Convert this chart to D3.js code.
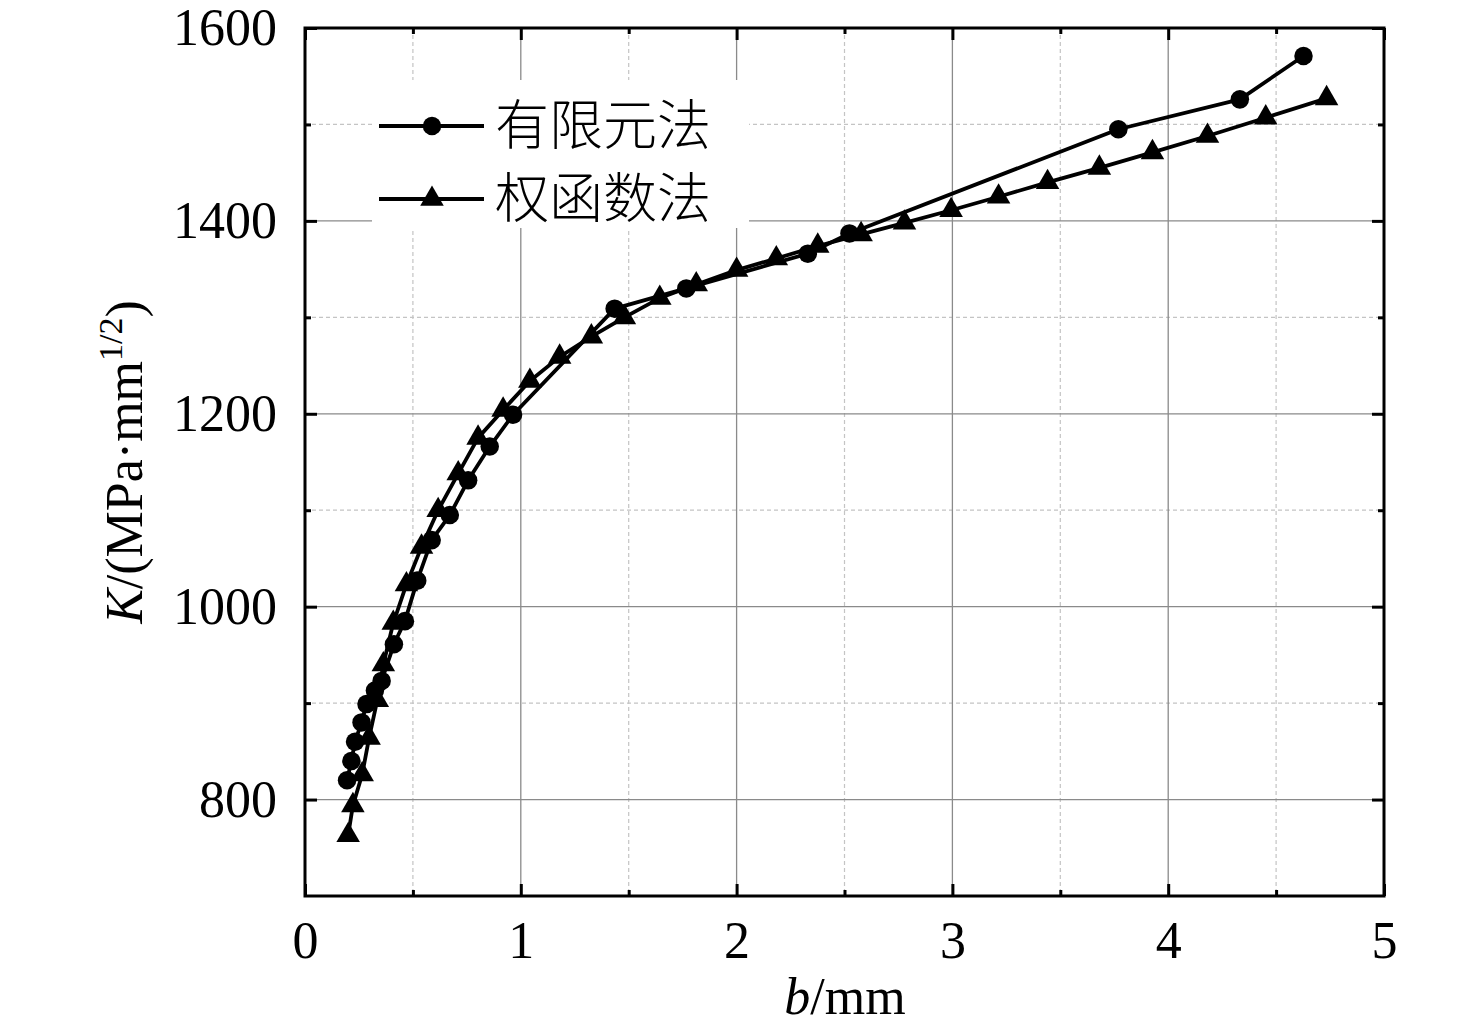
<!DOCTYPE html>
<html>
<head>
<meta charset="utf-8">
<script src="https://cdn.jsdelivr.net/npm/d3@7"></script>
<style>
  body { margin: 0; background: #fff; }
  text { font-family: "Liberation Serif", "Times New Roman", serif; }
</style>
</head>
<body>
<div id="chart"></div>
<script>
// crack depth b (mm) and stress intensity factor K
var femX = [0.195, 0.215, 0.232, 0.262, 0.285, 0.324, 0.355, 0.412, 0.463, 0.52, 0.587, 0.671, 0.756, 0.856, 0.964, 1.435, 1.767, 2.33, 2.523, 3.769, 4.332, 4.627];
var femY = [820, 840, 860, 880, 899, 913, 923, 961, 985, 1027, 1069, 1095, 1131, 1166, 1199, 1309, 1330, 1366, 1387, 1495, 1526, 1571];

var wfX = [0.2, 0.222, 0.265, 0.297, 0.335, 0.363, 0.409, 0.47, 0.54, 0.617, 0.71, 0.802, 0.918, 1.042, 1.18, 1.327, 1.48, 1.644, 1.813, 2.0, 2.184, 2.376, 2.577, 2.778, 2.994, 3.214, 3.441, 3.681, 3.927, 4.182, 4.452, 4.734];
var wfY = [763, 794, 826, 864, 903, 940, 983, 1023, 1062, 1100, 1138, 1175, 1204, 1234, 1259, 1280, 1300, 1320, 1334, 1349, 1361, 1374, 1386, 1398, 1411, 1425, 1440, 1455, 1471, 1488, 1507, 1527];

var seriesNames = ["有限元法", "权函数法"];
var xTicks = [0, 1, 2, 3, 4, 5];
var yTicks = [800, 1000, 1200, 1400, 1600];

var W = 1476, H = 1027,
    margin = {left: 305, right: 92, top: 28, bottom: 131};
var width = W - margin.left - margin.right,
    height = H - margin.top - margin.bottom;

var svg = d3.select("#chart").append("svg")
    .attr("width", W).attr("height", H);
var g = svg.append("g").attr("transform", "translate(" + margin.left + "," + margin.top + ")");

var x = d3.scaleLinear().domain([0, 5]).range([0, width]);
var y = d3.scaleLinear().domain([700, 1600]).range([height, 0]);

// grid: minor dashed, major solid
var xMinor = d3.range(0.5, 5, 1), yMinor = d3.range(700, 1601, 200).filter(v => v > 700 && v < 1600);
g.append("g").selectAll("line").data(xMinor).enter().append("line")
    .attr("x1", d => x(d)).attr("x2", d => x(d)).attr("y1", 0).attr("y2", height)
    .attr("stroke", "#c4c4c4").attr("stroke-width", 1.2).attr("stroke-dasharray", "4,3");
g.append("g").selectAll("line").data(yMinor).enter().append("line")
    .attr("y1", d => y(d)).attr("y2", d => y(d)).attr("x1", 0).attr("x2", width)
    .attr("stroke", "#c4c4c4").attr("stroke-width", 1.2).attr("stroke-dasharray", "4,3");
g.append("g").selectAll("line").data(xTicks.slice(1, -1)).enter().append("line")
    .attr("x1", d => x(d)).attr("x2", d => x(d)).attr("y1", 0).attr("y2", height)
    .attr("stroke", "#8a8a8a").attr("stroke-width", 1.3);
g.append("g").selectAll("line").data(yTicks.slice(0, -1)).enter().append("line")
    .attr("y1", d => y(d)).attr("y2", d => y(d)).attr("x1", 0).attr("x2", width)
    .attr("stroke", "#8a8a8a").attr("stroke-width", 1.3);

// legend background hides the grid behind it
g.append("rect").attr("x", 372 - margin.left).attr("y", 80 - margin.top)
    .attr("width", 377).attr("height", 148).attr("fill", "#fff");

// axes, ticks pointing inward on all four sides
function styleAxis(sel) {
    sel.select(".domain").remove();
    sel.selectAll("line").attr("stroke", "#000").attr("stroke-width", 3);
    sel.selectAll("text").attr("font-size", 52).attr("fill", "#000")
        .style("font-family", "'Liberation Serif', serif");
}
g.append("g").attr("transform", "translate(0," + height + ")")
    .call(d3.axisBottom(x).tickValues(xTicks).tickSize(-12).tickPadding(25).tickFormat(d3.format("d")))
    .call(styleAxis);
g.append("g").attr("transform", "translate(0," + height + ")")
    .call(d3.axisBottom(x).tickValues(xMinor).tickSize(-6).tickFormat(""))
    .call(styleAxis);
g.append("g")
    .call(d3.axisTop(x).tickValues(xTicks).tickSize(-12).tickFormat(""))
    .call(styleAxis);
g.append("g")
    .call(d3.axisTop(x).tickValues(xMinor).tickSize(-6).tickFormat(""))
    .call(styleAxis);
g.append("g")
    .call(d3.axisLeft(y).tickValues(yTicks).tickSize(-12).tickPadding(28).tickFormat(d3.format("d")))
    .call(styleAxis);
g.append("g")
    .call(d3.axisLeft(y).tickValues(yMinor).tickSize(-6).tickFormat(""))
    .call(styleAxis);
g.append("g").attr("transform", "translate(" + width + ",0)")
    .call(d3.axisRight(y).tickValues(yTicks).tickSize(-12).tickFormat(""))
    .call(styleAxis);
g.append("g").attr("transform", "translate(" + width + ",0)")
    .call(d3.axisRight(y).tickValues(yMinor).tickSize(-6).tickFormat(""))
    .call(styleAxis);

g.append("rect").attr("width", width).attr("height", height)
    .attr("fill", "none").attr("stroke", "#000").attr("stroke-width", 3);

// series
var lineFunction = d3.line().x(d => x(d[0])).y(d => y(d[1]));
var fem = femX.map((v, i) => [v, femY[i]]);
var wf = wfX.map((v, i) => [v, wfY[i]]);

[fem, wf].forEach(function(data) {
    g.append("path").attr("d", lineFunction(data))
        .attr("fill", "none").attr("stroke", "#000").attr("stroke-width", 3.8)
        .attr("stroke-linejoin", "round");
});
var circle = d3.symbol().type(d3.symbolCircle).size(270);
var tri = d3.symbol().type(d3.symbolTriangle).size(240);
g.append("g").selectAll("path").data(fem).enter().append("path")
    .attr("d", circle).attr("transform", d => "translate(" + x(d[0]) + "," + y(d[1]) + ")");
g.append("g").selectAll("path").data(wf).enter().append("path")
    .attr("d", tri).attr("transform", d => "translate(" + x(d[0]) + "," + y(d[1]) + ")");

// legend
var legY = [126, 199];
var leg = svg.append("g");
seriesNames.forEach(function(name, i) {
    leg.append("line").attr("x1", 379).attr("x2", 484).attr("y1", legY[i]).attr("y2", legY[i])
        .attr("stroke", "#000").attr("stroke-width", 4);
    leg.append("path").attr("d", i == 0 ? circle : tri)
        .attr("transform", "translate(432," + legY[i] + ")");
    leg.append("text").attr("x", 495).attr("y", legY[i]).attr("dy", "0.36em")
        .attr("font-size", 54).style("font-family", "'Noto Sans CJK SC', sans-serif")
        .style("font-weight", 300)
        .text(name);
});

// axis titles
var xt = svg.append("text").attr("x", 845).attr("y", 1014).attr("text-anchor", "middle")
    .attr("font-size", 52);
xt.append("tspan").attr("font-style", "italic").text("b");
xt.append("tspan").text("/mm");

var yt = svg.append("text").attr("transform", "translate(142,462) rotate(-90)")
    .attr("text-anchor", "middle").attr("font-size", 52);
yt.append("tspan").attr("font-style", "italic").text("K");
yt.append("tspan").text("/(MPa·mm");
yt.append("tspan").attr("font-size", 34).attr("dy", -20).text("1/2");
yt.append("tspan").attr("dy", 20).text(")");
</script>
</body>
</html>
